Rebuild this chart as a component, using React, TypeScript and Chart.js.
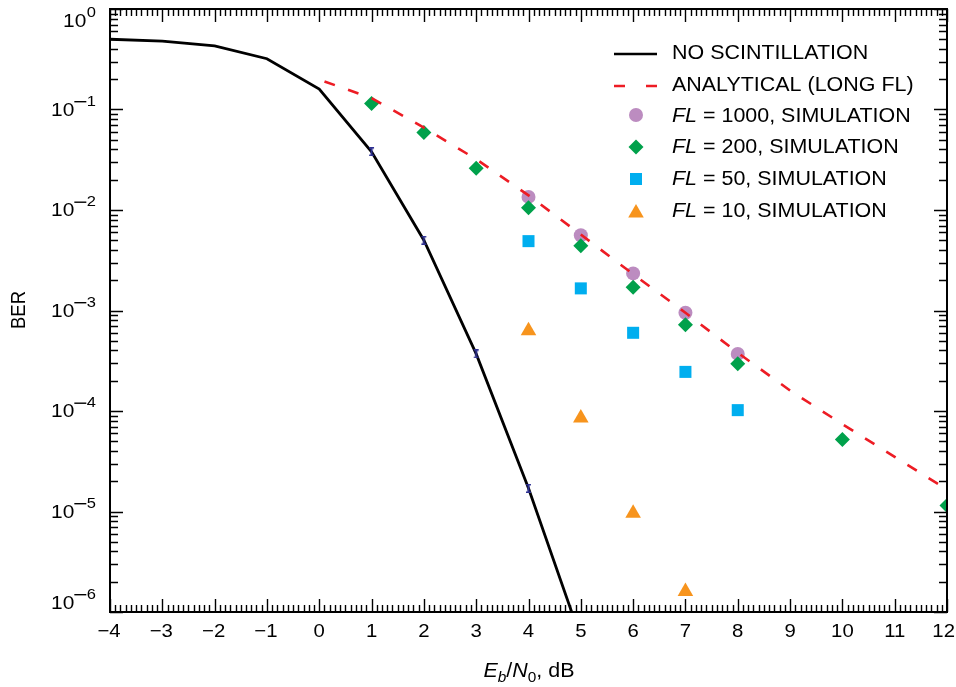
import React, { useEffect, useRef } from "react";
import { Chart, registerables } from "chart.js";

Chart.register(...registerables);

// ---- data ----
const noScintX = [-4, -3, -2, -1, 0, 1, 2, 3, 4, 5];
const noScintY = [0.5, 0.48, 0.43, 0.32, 0.16, 0.038, 0.005, 0.00037, 0.000017, 5.5e-7];
const noScintErrMarks = [0, 0, 0, 0, 0, 1, 1, 1, 1, 0];

const analyticX = [0.1, 1, 2, 3, 4, 5, 6, 7, 8, 9, 10, 11, 12];
const analyticY = [0.19, 0.13, 0.066, 0.032, 0.014, 0.0057, 0.0023, 0.00095, 0.00038, 0.00016, 0.000074, 0.000035, 0.0000165];

const fl1000X = [4, 5, 6, 7, 8];
const fl1000Y = [0.0135, 0.0056, 0.00234, 0.00095, 0.00037];

const fl200X = [1, 2, 3, 4, 5, 6, 7, 8, 10, 12];
const fl200Y = [0.115, 0.059, 0.026, 0.0105, 0.0044, 0.0017, 0.00072, 0.000295, 0.000052, 0.0000115];

const fl50X = [4, 5, 6, 7, 8];
const fl50Y = [0.0049, 0.00166, 0.0006, 0.000245, 0.000102];

const fl10X = [4, 5, 6, 7];
const fl10Y = [0.00063, 0.000085, 0.0000096, 0.0000016];

const xTickValues = [-4, -3, -2, -1, 0, 1, 2, 3, 4, 5, 6, 7, 8, 9, 10, 11, 12];
const yTickValues = [1, 0.1, 0.01, 0.001, 0.0001, 0.00001, 0.000001];
const yTickExponents = ["0", "1", "2", "3", "4", "5", "6"];
const yTickExpNegative = [false, true, true, true, true, true, true];

const legendLabels = [
  { pre: "", text: "NO SCINTILLATION" },
  { pre: "", text: "ANALYTICAL (LONG FL)" },
  { pre: "FL", text: " = 1000, SIMULATION" },
  { pre: "FL", text: " = 200, SIMULATION" },
  { pre: "FL", text: " = 50, SIMULATION" },
  { pre: "FL", text: " = 10, SIMULATION" },
];

const COLORS = {
  black: "#000000",
  red: "#ed1c24",
  lilac: "#bc8cc0",
  green: "#00a14b",
  cyan: "#00aeef",
  orange: "#f7941d",
  navy: "#2e3192",
};

const FONT = "'Liberation Sans', Arial, Helvetica, sans-serif";
const SX = 1.1; // horizontal text stretch

const toPts = (xs: number[], ys: number[]) => xs.map((x, i) => ({ x, y: ys[i] }));

function textW(ctx: CanvasRenderingContext2D, font: string, t: string) {
  ctx.font = font;
  return ctx.measureText(t).width * SX;
}

function drawText(ctx: CanvasRenderingContext2D, font: string, t: string, x: number, y: number) {
  ctx.save();
  ctx.font = font;
  ctx.textAlign = "left";
  ctx.translate(x, y);
  ctx.scale(SX, 1);
  ctx.fillText(t, 0, 0);
  ctx.restore();
}

function makeErrMark(): HTMLCanvasElement {
  const c = document.createElement("canvas");
  c.width = 7;
  c.height = 9;
  const g = c.getContext("2d")!;
  g.fillStyle = COLORS.navy;
  g.fillRect(1, 0, 5, 1.5);
  g.fillRect(1, 7.5, 5, 1.5);
  g.fillRect(2.5, 0, 2, 9);
  return c;
}

function drawShape(ctx: CanvasRenderingContext2D, shape: string, cx: number, cy: number, r: number, color: string) {
  ctx.save();
  ctx.fillStyle = color;
  ctx.beginPath();
  if (shape === "circle") {
    ctx.arc(cx, cy, r, 0, Math.PI * 2);
  } else if (shape === "diamond") {
    ctx.moveTo(cx, cy - r);
    ctx.lineTo(cx + r, cy);
    ctx.lineTo(cx, cy + r);
    ctx.lineTo(cx - r, cy);
    ctx.closePath();
  } else if (shape === "square") {
    const s = r * Math.SQRT1_2;
    ctx.rect(cx - s, cy - s, 2 * s, 2 * s);
  } else if (shape === "triangle") {
    ctx.moveTo(cx, cy - r);
    ctx.lineTo(cx + r * Math.sin(Math.PI / 3), cy + r * 0.5);
    ctx.lineTo(cx - r * Math.sin(Math.PI / 3), cy + r * 0.5);
    ctx.closePath();
  }
  ctx.fill();
  ctx.restore();
}

const decorPlugin = {
  id: "decor",
  afterDraw(chart: any) {
    const ctx: CanvasRenderingContext2D = chart.ctx;
    const { left, right, top, bottom } = chart.chartArea;
    const xs = chart.scales.x;
    const ys = chart.scales.y;
    ctx.save();

    // ticks
    ctx.strokeStyle = "#000";
    ctx.lineWidth = 1.4;
    ctx.beginPath();
    for (let i = -40; i <= 120; i++) {
      const px = Math.round(xs.getPixelForValue(i / 10)) + 0.5;
      const len = i % 10 === 0 ? 13 : 7;
      ctx.moveTo(px, bottom);
      ctx.lineTo(px, bottom - len);
      ctx.moveTo(px, top);
      ctx.lineTo(px, top + len);
    }
    for (let e = -6; e <= 0; e++) {
      for (let m = 1; m <= 9; m++) {
        const v = m * Math.pow(10, e);
        if (v > 1.0000001) break;
        const py = Math.round(ys.getPixelForValue(v)) + 0.5;
        const len = m === 1 ? 13 : 8;
        ctx.moveTo(left, py);
        ctx.lineTo(left + len, py);
        ctx.moveTo(right, py);
        ctx.lineTo(right - len, py);
      }
    }
    ctx.stroke();

    // frame
    ctx.lineWidth = 2;
    ctx.strokeRect(left, top, right - left, bottom - top);

    ctx.fillStyle = "#000";
    ctx.textBaseline = "middle";

    // x tick labels
    const xFont = `18.5px ${FONT}`;
    xTickValues.forEach((v) => {
      const label = v < 0 ? "\u2212" + Math.abs(v) : String(v);
      const w = textW(ctx, xFont, label);
      const px = xs.getPixelForValue(v);
      let lx = px - w / 2 - (v < 0 ? 1 : 0);
      lx = Math.min(lx, 955 - w);
      drawText(ctx, xFont, label, lx, 632);
    });

    // y tick labels
    const baseFont = `19px ${FONT}`;
    const expFont = `15px ${FONT}`;
    yTickValues.forEach((v, i) => {
      let py = ys.getPixelForValue(v) + 1;
      py = Math.min(Math.max(py, top + 12.5), bottom - 8.5);
      const exp = yTickExponents[i];
      const rightEdge = 96;
      const dw = textW(ctx, expFont, exp);
      const minusW = yTickExpNegative[i] ? 12 : 0;
      const ex = rightEdge - dw;
      drawText(ctx, expFont, exp, ex, py - 9);
      if (minusW) {
        ctx.fillRect(ex - minusW - 0.5, py - 9.5, minusW, 1.4);
      }
      const bw = textW(ctx, baseFont, "10");
      drawText(ctx, baseFont, "10", ex - minusW - bw - 0.5, py);
    });

    // y axis title
    ctx.save();
    ctx.translate(19, 310);
    ctx.rotate(-Math.PI / 2);
    ctx.textAlign = "center";
    ctx.textBaseline = "middle";
    ctx.font = `18.5px ${FONT}`;
    ctx.scale(1, SX);
    ctx.fillText("BER", 0, 0);
    ctx.restore();

    // x axis title: E_b/N_0, dB
    {
      const parts: { t: string; italic: boolean; sub: boolean }[] = [
        { t: "E", italic: true, sub: false },
        { t: "b", italic: true, sub: true },
        { t: "/", italic: false, sub: false },
        { t: "N", italic: true, sub: false },
        { t: "0", italic: false, sub: true },
        { t: ", dB", italic: false, sub: false },
      ];
      const fontFor = (p: any) => `${p.italic ? "italic " : ""}${p.sub ? 14 : 19.5}px ${FONT}`;
      let total = 0;
      parts.forEach((p) => {
        total += textW(ctx, fontFor(p), p.t);
      });
      let cx = 529 - total / 2;
      const base = 677;
      ctx.textBaseline = "alphabetic";
      parts.forEach((p) => {
        drawText(ctx, fontFor(p), p.t, cx, p.sub ? base + 5 : base);
        cx += textW(ctx, fontFor(p), p.t);
      });
    }

    // legend
    const rowY = [54, 86, 117, 148, 180, 212];
    const symX = 636;
    const textX = 672;
    ctx.lineWidth = 2.6;
    ctx.strokeStyle = COLORS.black;
    ctx.beginPath();
    ctx.moveTo(614, rowY[0]);
    ctx.lineTo(657, rowY[0]);
    ctx.stroke();
    ctx.strokeStyle = COLORS.red;
    ctx.beginPath();
    ctx.moveTo(614, rowY[1]);
    ctx.lineTo(625, rowY[1]);
    ctx.moveTo(646, rowY[1]);
    ctx.lineTo(657, rowY[1]);
    ctx.stroke();
    drawShape(ctx, "circle", symX, rowY[2] - 2, 7, COLORS.lilac);
    drawShape(ctx, "diamond", symX, rowY[3] - 1, 7.5, COLORS.green);
    drawShape(ctx, "square", symX, rowY[4] - 1, 8.5, COLORS.cyan);
    drawShape(ctx, "triangle", symX, rowY[5] + 1, 9, COLORS.orange);

    ctx.fillStyle = "#000";
    ctx.textBaseline = "middle";
    const lFont = `19.5px ${FONT}`;
    const lItal = `italic 19.5px ${FONT}`;
    legendLabels.forEach((l, i) => {
      let x = textX;
      const y = rowY[i];
      if (l.pre) {
        drawText(ctx, lItal, l.pre, x, y);
        x += textW(ctx, lItal, l.pre);
      }
      drawText(ctx, lFont, l.text, x, y);
    });

    ctx.restore();
  },
};

export default function App() {
  const ref = useRef<HTMLCanvasElement | null>(null);

  useEffect(() => {
    document.body.style.margin = "0";
    const canvas = ref.current;
    if (!canvas) return;
    const errMark = makeErrMark();
    const chart = new Chart(canvas, {
      type: "scatter",
      data: {
        datasets: [
          {
            label: "NO SCINTILLATION",
            data: toPts(noScintX, noScintY),
            showLine: true,
            borderColor: COLORS.black,
            borderWidth: 2.8,
            pointRadius: noScintErrMarks.map((m) => (m ? 4 : 0)),
            pointHoverRadius: 0,
            pointStyle: noScintErrMarks.map((m) => (m ? errMark : false)),
            order: 6,
          } as any,
          {
            label: "ANALYTICAL (LONG FL)",
            data: toPts(analyticX, analyticY),
            showLine: true,
            borderColor: COLORS.red,
            borderWidth: 2.6,
            borderDash: [11, 14],
            pointRadius: 0,
            order: 1,
          } as any,
          {
            label: "FL = 1000, SIMULATION",
            data: toPts(fl1000X, fl1000Y),
            pointStyle: "circle",
            pointRadius: 7,
            backgroundColor: COLORS.lilac,
            borderColor: COLORS.lilac,
            borderWidth: 0,
            order: 3,
          },
          {
            label: "FL = 200, SIMULATION",
            data: toPts(fl200X, fl200Y),
            pointStyle: "rectRot",
            pointRadius: 7.5,
            backgroundColor: COLORS.green,
            borderColor: COLORS.green,
            borderWidth: 0,
            order: 2,
          },
          {
            label: "FL = 50, SIMULATION",
            data: toPts(fl50X, fl50Y),
            pointStyle: "rect",
            pointRadius: 8.5,
            backgroundColor: COLORS.cyan,
            borderColor: COLORS.cyan,
            borderWidth: 0,
            order: 4,
          },
          {
            label: "FL = 10, SIMULATION",
            data: toPts(fl10X, fl10Y),
            pointStyle: "triangle",
            pointRadius: 9,
            backgroundColor: COLORS.orange,
            borderColor: COLORS.orange,
            borderWidth: 0,
            order: 5,
          },
        ],
      },
      options: {
        animation: false,
        responsive: false,
        maintainAspectRatio: false,
        layout: { padding: { top: 8, right: 6, left: 0, bottom: 0 } },
        plugins: {
          legend: { display: false },
          tooltip: { enabled: false },
        },
        scales: {
          x: {
            type: "linear",
            min: -4,
            max: 12,
            afterBuildTicks: (scale: any) => {
              scale.ticks = xTickValues.map((v) => ({ value: v }));
            },
            afterFit: (scale: any) => {
              scale.height = 75;
              scale.paddingLeft = 0;
              scale.paddingRight = 0;
            },
            ticks: { display: false },
            grid: { display: false },
            border: { display: false },
          },
          y: {
            type: "logarithmic",
            min: 1e-6,
            max: 1,
            afterBuildTicks: (scale: any) => {
              scale.ticks = yTickValues.map((v) => ({ value: v }));
            },
            afterFit: (scale: any) => {
              scale.width = 110;
              scale.paddingTop = 0;
              scale.paddingBottom = 0;
            },
            ticks: { display: false },
            grid: { display: false },
            border: { display: false },
          },
        },
      },
      plugins: [decorPlugin],
    } as any);
    return () => chart.destroy();
  }, []);

  return <canvas ref={ref} width={956} height={687} style={{ display: "block" }} />;
}
